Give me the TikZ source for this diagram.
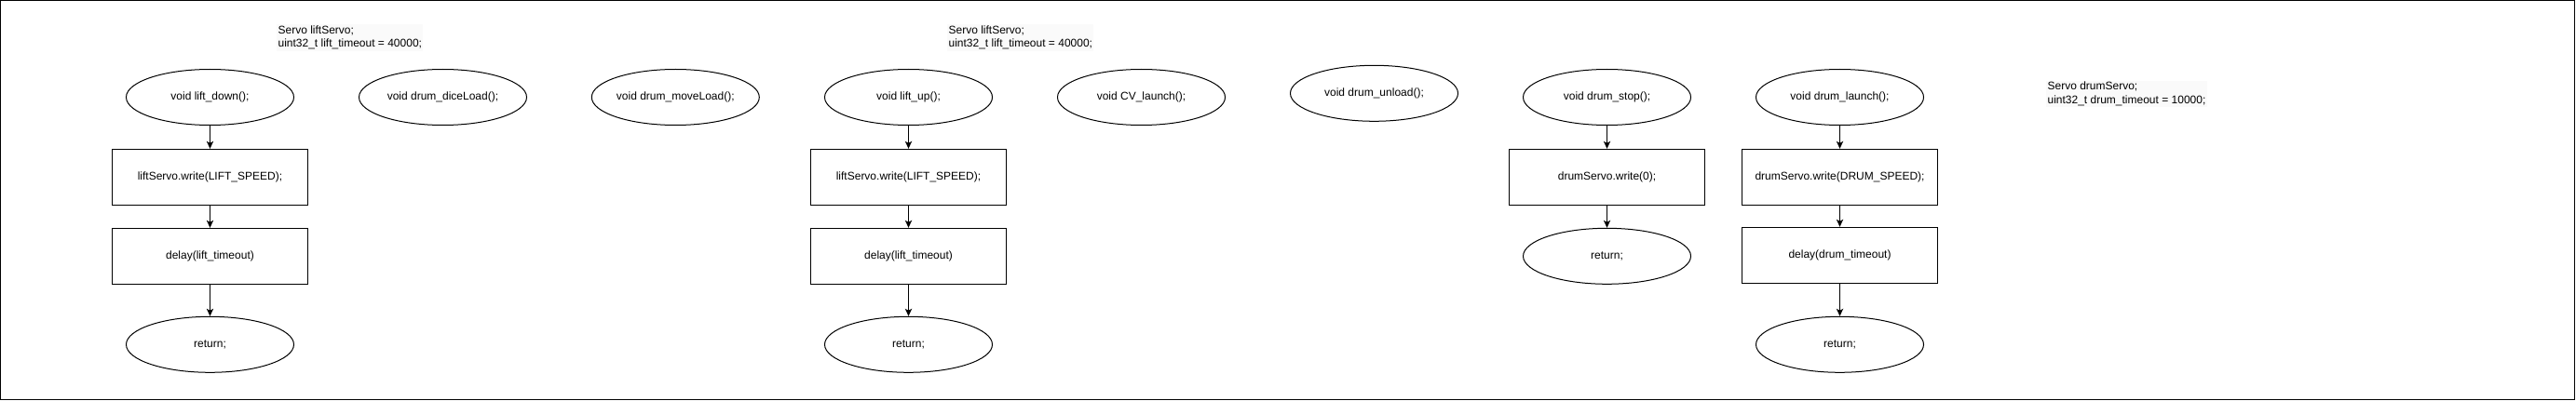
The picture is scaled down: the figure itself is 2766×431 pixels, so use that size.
\documentclass[tikz,border=0pt]{standalone}
\usepackage{fontspec}
\setmainfont{Liberation Sans}
\usetikzlibrary{shapes.geometric,arrows.meta}
\definecolor{notebg}{HTML}{FAFAFA}
\begin{document}
\begin{tikzpicture}[x=0.75pt,y=-0.75pt,
  every node/.style={font=\fontsize{9pt}{10.8pt}\selectfont},
  fnoval/.style={ellipse,draw=black,line width=0.75pt,minimum width=135pt,minimum height=45pt,inner sep=0pt},
  stepbox/.style={rectangle,draw=black,line width=0.75pt,minimum width=157.5pt,minimum height=45pt,inner sep=0pt},
  note/.style={anchor=west,align=left,inner sep=1pt,fill=notebg},
  flow/.style={line width=0.75pt,-{Stealth[length=6pt,width=5.5pt,inset=1.5pt]}}]
\useasboundingbox (0,0) rectangle (2766,431);
\draw[line width=1.1pt] (0.75,0.75) rectangle (2764.5,429.5);

\node[note] (t1) at (297,40.5) {Servo liftServo;\\uint32\_t lift\_timeout = 40000;};
\node[note] (t2) at (1017,40.5) {Servo liftServo;\\uint32\_t lift\_timeout = 40000;};
\node[note] (t3) at (2197,101) {Servo drumServo;\\uint32\_t drum\_timeout = 10000;};

\node[fnoval] (ld) at (225.5,104.5) {void lift\_down();};
\node[stepbox] (lw) at (225.5,190.3) {liftServo.write(LIFT\_SPEED);};
\node[stepbox] (ldl) at (225.5,275.3) {delay(lift\_timeout)};
\node[fnoval] (lr) at (225.5,370.3) {return;};

\node[fnoval] (dl) at (475.5,104.5) {void drum\_diceLoad();};
\node[fnoval] (dm) at (725.3,104.5) {void drum\_moveLoad();};

\node[fnoval] (lu) at (975.5,104.5) {void lift\_up();};
\node[stepbox] (uw) at (975.5,190.3) {liftServo.write(LIFT\_SPEED);};
\node[stepbox] (udl) at (975.5,275.3) {delay(lift\_timeout)};
\node[fnoval] (ur) at (975.5,370.3) {return;};

\node[fnoval] (cv) at (1225.5,104.5) {void CV\_launch();};
\node[fnoval] (du) at (1475.5,100.3) {void drum\_unload();};

\node[fnoval] (ds) at (1725.5,104.5) {void drum\_stop();};
\node[stepbox] (sw) at (1725.5,190.3) {drumServo.write(0);};
\node[fnoval] (sr) at (1725.5,275.3) {return;};

\node[fnoval] (dla) at (1975.5,104.5) {void drum\_launch();};
\node[stepbox] (aw) at (1975.5,190.3) {drumServo.write(DRUM\_SPEED);};
\node[stepbox] (adl) at (1975.5,274.3) {delay(drum\_timeout)};
\node[fnoval] (ar) at (1975.5,370.3) {return;};

\draw[flow] (ld) -- (lw);
\draw[flow] (lw) -- (ldl);
\draw[flow] (ldl) -- (lr);
\draw[flow] (lu) -- (uw);
\draw[flow] (uw) -- (udl);
\draw[flow] (udl) -- (ur);
\draw[flow] (ds) -- (sw);
\draw[flow] (sw) -- (sr);
\draw[flow] (dla) -- (aw);
\draw[flow] (aw) -- (adl);
\draw[flow] (adl) -- (ar);
\end{tikzpicture}
\end{document}
